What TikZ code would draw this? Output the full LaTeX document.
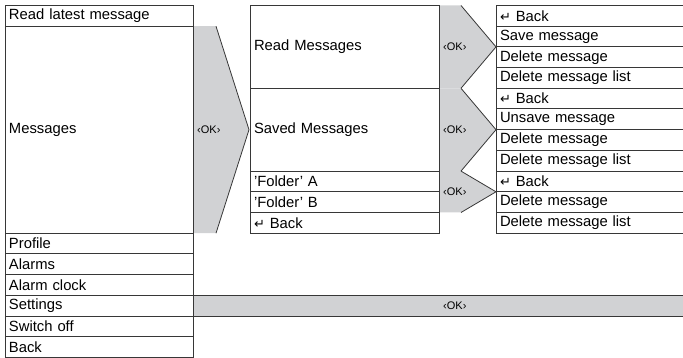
\documentclass[tikz,border=0pt]{standalone}
\usepackage{fontspec}
\setmainfont{Liberation Sans}
\newfontfamily\arrowfont{DejaVu Sans}
\usetikzlibrary{positioning,backgrounds}
\definecolor{linec}{RGB}{55,55,55}
\definecolor{okgray}{RGB}{209,210,212}
\newcommand{\retsym}{{\arrowfont\fontsize{13}{13}\selectfont ↵}}
\tikzset{
  item/.style={draw=linec, line width=1pt, anchor=north west, outer sep=0pt,
    minimum height=#1*20.7pt, inner xsep=4pt, inner ysep=0pt, align=left,
    font=\fontsize{14.8}{16}\selectfont},
  lcol/.style={item=#1, text width=180pt},
  mcol/.style={item=#1, text width=181pt},
  rcol/.style={item=1, text width=186pt},
  ok/.style={inner sep=0pt, font=\fontsize{11}{11}\selectfont},
  slant/.style={draw=linec, line width=0.8pt}
}
\begin{document}
\begin{tikzpicture}[x=1pt,y=-1pt]
\useasboundingbox (0,0) rectangle (683,358);
% main menu
\node[lcol=1] (rlm) at (5,5.5) {Read latest message};
\node[lcol=10] (msgs) at (rlm.south west) {Messages};
\node[lcol=1] (profile) at (msgs.south west) {Profile};
\node[lcol=1] (alarms) at (profile.south west) {Alarms};
\node[lcol=1] (alarmclk) at (alarms.south west) {Alarm clock};
\node[lcol=1] (settings) at (alarmclk.south west) {Settings};
\node[lcol=1] (switchoff) at (settings.south west) {Switch off};
\node[lcol=1] (back) at (switchoff.south west) {Back};
% messages submenu
\node[mcol=4] (readmsg) at (250,5.5) {Read Messages};
\node[mcol=4] (savedmsg) at (readmsg.south west) {Saved Messages};
\node[mcol=1] (folderA) at (savedmsg.south west) {'Folder' A};
\node[mcol=1] (folderB) at (folderA.south west) {'Folder' B};
\node[mcol=1] (midback) at (folderB.south west) {\retsym~Back};
% options
\node[rcol] (rmback) at (496,5.5) {\retsym~Back};
\node[rcol] (rmsave) at (rmback.south west) {Save message};
\node[rcol] (rmdel) at (rmsave.south west) {Delete message};
\node[rcol] (rmdellist) at (rmdel.south west) {Delete message list};
\node[rcol] (smback) at (rmdellist.south west) {\retsym~Back};
\node[rcol] (smunsave) at (smback.south west) {Unsave message};
\node[rcol] (smdel) at (smunsave.south west) {Delete message};
\node[rcol] (smdellist) at (smdel.south west) {Delete message list};
\node[rcol] (fback) at (smdellist.south west) {\retsym~Back};
\node[rcol] (fdel) at (fback.south west) {Delete message};
\node[rcol] (fdellist) at (fdel.south west) {Delete message list};
% grey OK arrows
\begin{scope}[on background layer]
\coordinate (m1) at ([xshift=23pt]msgs.north east);
\coordinate (m2) at ([xshift=23pt]msgs.south east);
\coordinate (mtip) at ([xshift=-1pt]msgs.east -| readmsg.west);
\fill[okgray] (msgs.north east) -- (m1) -- (mtip) -- (m2) -- (msgs.south east) -- cycle;
\draw[slant] (m1) -- (mtip) -- (m2);
\foreach \top/\bot/\tipy in {readmsg.north east/readmsg.south east/readmsg.east,
    savedmsg.north east/savedmsg.south east/savedmsg.east,
    folderA.north east/folderB.south east/folderA.south east} {
  \fill[okgray] (\top) -- ([xshift=22pt]\top) -- (\tipy -| rmback.west)
    -- ([xshift=22pt]\bot) -- (\bot) -- cycle;
  \draw[slant] ([xshift=22pt]\top) -- (\tipy -| rmback.west) -- ([xshift=22pt]\bot);
}
\draw[fill=okgray, draw=linec, line width=1pt] (settings.north east) rectangle (settings.south east -| fdellist.east);
\end{scope}
\node[ok, right=4pt of msgs.east] (okmsgs) {‹OK›};
\node[ok, right=4pt of readmsg.east] (okread) {‹OK›};
\node[ok, right=4pt of savedmsg.east] (oksaved) {‹OK›};
\node[ok, right=4pt of folderA.south east] (okfolder) {‹OK›};
\node[ok, right=250pt of settings.east] (oksettings) {‹OK›};
\end{tikzpicture}
\end{document}
